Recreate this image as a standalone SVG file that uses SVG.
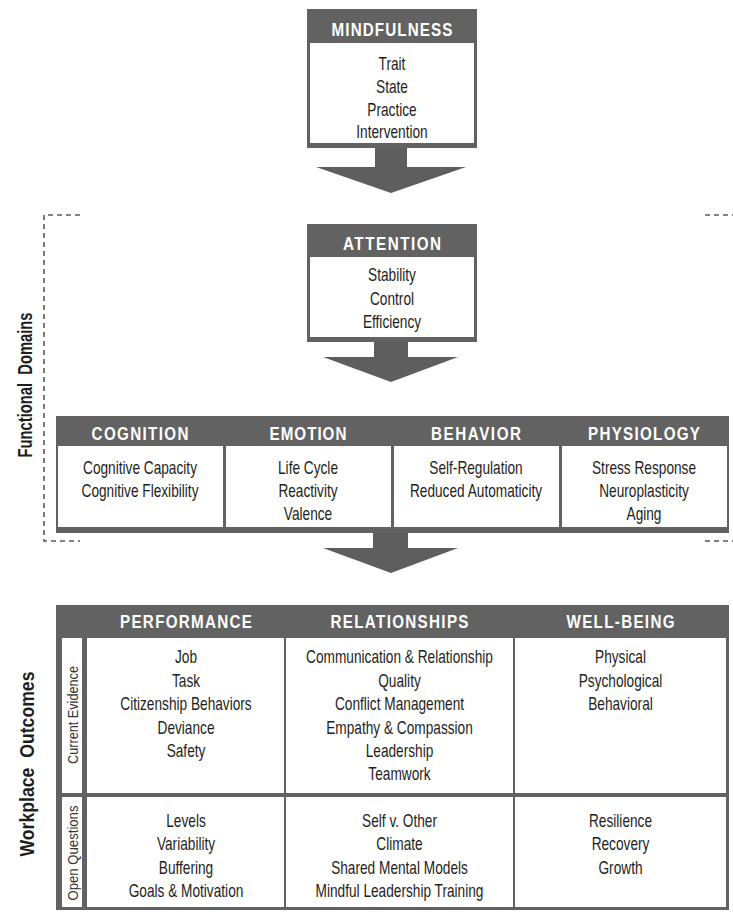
<svg xmlns="http://www.w3.org/2000/svg" width="733" height="912" viewBox="0 0 733 912">
<style>
.frame{fill:#626262}
.cell{fill:#ffffff}
.ht{font-family:"Liberation Sans",Arial,sans-serif;font-weight:bold;font-size:19px;fill:#ffffff;text-anchor:middle}
.bt{font-family:"Liberation Sans",Arial,sans-serif;font-size:18px;fill:#1e1e1e;text-anchor:middle}
.side{font-family:"Liberation Sans",Arial,sans-serif;font-weight:bold;font-size:20px;fill:#1e1e1e;text-anchor:middle;white-space:pre}
.lbl{font-family:"Liberation Sans",Arial,sans-serif;font-size:15px;fill:#333333;text-anchor:middle}
.dash{fill:none;stroke:#5a5a5a;stroke-width:1.6;stroke-dasharray:5 4}
.arrow{fill:#5e5e5e}
</style>
<rect width="733" height="912" fill="#ffffff"/>

<g id="connectors">
<polygon class="arrow" points="375,148 407,148 407,167 466,167 391,193 316,167 375,167"/>
<polygon class="arrow" points="374,342 408,342 408,357 458,357 391,382 323,357 374,357"/>
<polygon class="arrow" points="373,533 408,533 408,548 458,548 391,573 323,548 373,548"/>
</g>

<g id="functional-domains-bracket">
<path class="dash" d="M80,215 H44 V541 H80"/>
<path class="dash" d="M705,215 H733"/>
<path class="dash" d="M705,541 H733"/>
<text class="side" xml:space="preserve" transform="translate(31.5 385) rotate(-90)" textLength="145" lengthAdjust="spacingAndGlyphs">Functional  Domains</text>
</g>

<g id="mindfulness">
<rect class="frame" x="307" y="9" width="170" height="139"/>
<rect class="cell" x="310" y="43" width="164" height="100"/>
<text class="ht" transform="translate(392 36) scale(0.8 1)" textLength="151" lengthAdjust="spacing">MINDFULNESS</text>
<g transform="translate(392 0) scale(0.76 1)">
<text class="bt" x="0" y="70">Trait</text>
<text class="bt" x="0" y="93">State</text>
<text class="bt" x="0" y="116">Practice</text>
<text class="bt" x="0" y="138">Intervention</text>
</g>
</g>

<g id="attention">
<rect class="frame" x="307" y="224" width="170" height="118"/>
<rect class="cell" x="310" y="257" width="164" height="80"/>
<text class="ht" transform="translate(392 250) scale(0.8 1)" textLength="122.5" lengthAdjust="spacing">ATTENTION</text>
<g transform="translate(392 0) scale(0.76 1)">
<text class="bt" x="0" y="281">Stability</text>
<text class="bt" x="0" y="305">Control</text>
<text class="bt" x="0" y="328">Efficiency</text>
</g>
</g>

<g id="domains-row">
<rect class="frame" x="56" y="416" width="673" height="117"/>
<g id="cognition">
<rect class="cell" x="58" y="446" width="165" height="81"/>
<text class="ht" transform="translate(140 440) scale(0.8 1)" textLength="121" lengthAdjust="spacing">COGNITION</text>
<g transform="translate(140 0) scale(0.76 1)">
<text class="bt" x="0" y="474">Cognitive Capacity</text>
<text class="bt" x="0" y="497">Cognitive Flexibility</text>
</g>
</g>
<g id="emotion">
<rect class="cell" x="226" y="446" width="165" height="81"/>
<text class="ht" transform="translate(308 440) scale(0.8 1)" textLength="96" lengthAdjust="spacing">EMOTION</text>
<g transform="translate(308 0) scale(0.76 1)">
<text class="bt" x="0" y="474">Life Cycle</text>
<text class="bt" x="0" y="497">Reactivity</text>
<text class="bt" x="0" y="520">Valence</text>
</g>
</g>
<g id="behavior">
<rect class="cell" x="394" y="446" width="165" height="81"/>
<text class="ht" transform="translate(476 440) scale(0.8 1)" textLength="112.5" lengthAdjust="spacing">BEHAVIOR</text>
<g transform="translate(476 0) scale(0.76 1)">
<text class="bt" x="0" y="474">Self-Regulation</text>
<text class="bt" x="0" y="497">Reduced Automaticity</text>
</g>
</g>
<g id="physiology">
<rect class="cell" x="562" y="446" width="165" height="81"/>
<text class="ht" transform="translate(644 440) scale(0.8 1)" textLength="140" lengthAdjust="spacing">PHYSIOLOGY</text>
<g transform="translate(644 0) scale(0.76 1)">
<text class="bt" x="0" y="474">Stress Response</text>
<text class="bt" x="0" y="497">Neuroplasticity</text>
<text class="bt" x="0" y="520">Aging</text>
</g>
</g>
</g>

<g id="workplace-outcomes">
<text class="side" xml:space="preserve" transform="translate(34 764) rotate(-90)" textLength="185" lengthAdjust="spacingAndGlyphs">Workplace  Outcomes</text>
<rect class="frame" x="56" y="605" width="673" height="305"/>
<rect class="cell" x="62" y="638" width="20" height="155"/>
<rect class="cell" x="62" y="797" width="20" height="110"/>
<text class="lbl" transform="translate(78 715) rotate(-90)" textLength="98" lengthAdjust="spacingAndGlyphs">Current Evidence</text>
<text class="lbl" transform="translate(78 853) rotate(-90)" textLength="95" lengthAdjust="spacingAndGlyphs">Open Questions</text>

<g id="performance">
<rect class="cell" x="87" y="638" width="197" height="155"/>
<rect class="cell" x="87" y="797" width="197" height="110"/>
<text class="ht" transform="translate(186 628) scale(0.8 1)" textLength="165" lengthAdjust="spacing">PERFORMANCE</text>
<g transform="translate(186 0) scale(0.76 1)">
<text class="bt" x="0" y="663">Job</text>
<text class="bt" x="0" y="687">Task</text>
<text class="bt" x="0" y="710">Citizenship Behaviors</text>
<text class="bt" x="0" y="734">Deviance</text>
<text class="bt" x="0" y="757">Safety</text>
<text class="bt" x="0" y="827">Levels</text>
<text class="bt" x="0" y="850">Variability</text>
<text class="bt" x="0" y="874">Buffering</text>
<text class="bt" x="0" y="897">Goals &amp; Motivation</text>
</g>
</g>

<g id="relationships">
<rect class="cell" x="286" y="638" width="227" height="155"/>
<rect class="cell" x="286" y="797" width="227" height="110"/>
<text class="ht" transform="translate(399.5 628) scale(0.8 1)" textLength="172.5" lengthAdjust="spacing">RELATIONSHIPS</text>
<g transform="translate(399.5 0) scale(0.76 1)">
<text class="bt" x="0" y="663">Communication &amp; Relationship</text>
<text class="bt" x="0" y="687">Quality</text>
<text class="bt" x="0" y="710">Conflict Management</text>
<text class="bt" x="0" y="734">Empathy &amp; Compassion</text>
<text class="bt" x="0" y="757">Leadership</text>
<text class="bt" x="0" y="780">Teamwork</text>
<text class="bt" x="0" y="827">Self v. Other</text>
<text class="bt" x="0" y="850">Climate</text>
<text class="bt" x="0" y="874">Shared Mental Models</text>
<text class="bt" x="0" y="897">Mindful Leadership Training</text>
</g>
</g>

<g id="well-being">
<rect class="cell" x="515" y="638" width="211" height="155"/>
<rect class="cell" x="515" y="797" width="211" height="110"/>
<text class="ht" transform="translate(620.5 628) scale(0.8 1)" textLength="135" lengthAdjust="spacing">WELL-BEING</text>
<g transform="translate(620.5 0) scale(0.76 1)">
<text class="bt" x="0" y="663">Physical</text>
<text class="bt" x="0" y="687">Psychological</text>
<text class="bt" x="0" y="710">Behavioral</text>
<text class="bt" x="0" y="827">Resilience</text>
<text class="bt" x="0" y="850">Recovery</text>
<text class="bt" x="0" y="874">Growth</text>
</g>
</g>
</g>
</svg>
